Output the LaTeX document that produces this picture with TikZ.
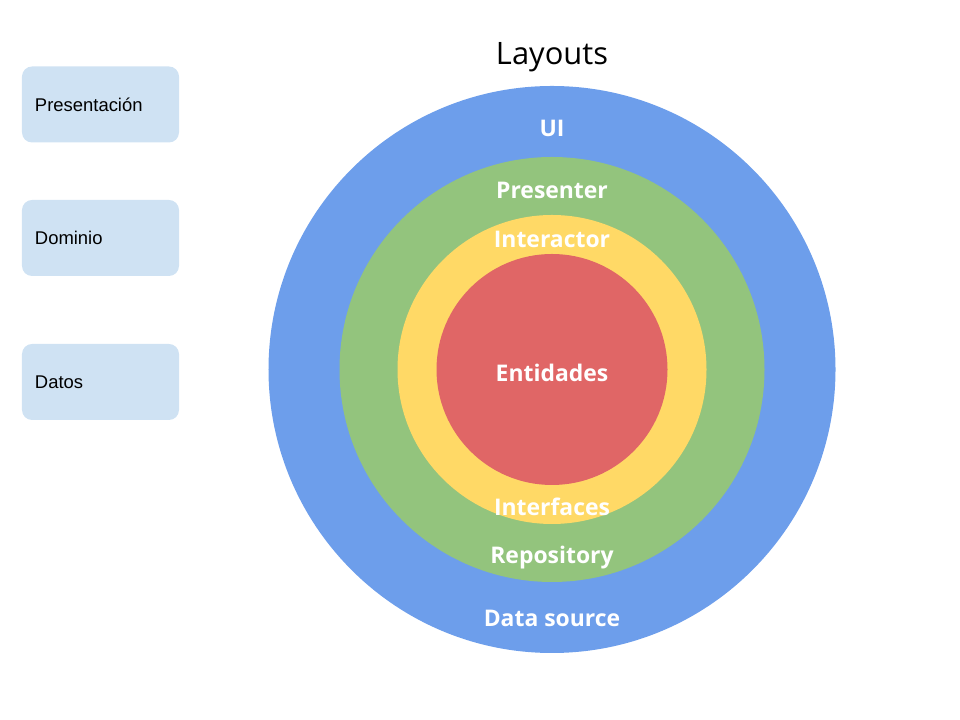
\documentclass[tikz,border=0pt]{standalone}
\usepackage{fontspec}
\setmainfont{Liberation Sans}
\newfontfamily\ringfont{Open Sans}
\usetikzlibrary{positioning}
\definecolor{uiblue}{HTML}{6D9EEB}
\definecolor{presgreen}{HTML}{93C47D}
\definecolor{intyellow}{HTML}{FFD966}
\definecolor{entred}{HTML}{E06666}
\definecolor{boxblue}{HTML}{CFE2F3}
\tikzset{
  ring/.style={circle,inner sep=0pt,draw=none},
  ringlabel/.style={text=white,font=\ringfont\bfseries\fontsize{23}{27}\selectfont},
  layerbox/.style={rounded corners=10bp,fill=boxblue,minimum height=76bp,
    text width=131bp,inner xsep=13bp,align=left,font=\fontsize{18.5}{22}\selectfont},
}
\begin{document}
\begin{tikzpicture}[x=1bp,y=1bp]
  \useasboundingbox (0,0) rectangle (960,720);
  % Rings
  \node[ring,fill=uiblue,minimum size=567bp] (ui) at (552,350.5) {};
  \node[ring,fill=presgreen,minimum size=425bp] (presenter) at (552,350.5) {};
  \node[ring,fill=intyellow,minimum size=309bp] (interactor) at (552,350.5) {};
  \node[ring,fill=entred,minimum size=231bp] (entidades) at (552,350.5) {};
  % Title
  \node[font=\ringfont\fontsize{31}{37}\selectfont] (layouts) at (552,663) {Layouts};
  % Ring labels
  \node[ringlabel] (uilbl) at (552,592) {UI};
  \node[ringlabel] (presenterlbl) at (552,530) {Presenter};
  \node[ringlabel] (interactorlbl) at (552,481) {Interactor};
  \node[ringlabel] (entidadeslbl) at (552,347) {Entidades};
  \node[ringlabel] (interfaceslbl) at (552,213) {Interfaces};
  \node[ringlabel] (repositorylbl) at (552,162) {Repository};
  \node[ringlabel] (datasourcelbl) at (552,102) {Data source};
  % Layer boxes
  \node[layerbox] (presentacion) at (100.5,615.5) {Presentación};
  \node[layerbox] (dominio) at (100.5,482) {Dominio};
  \node[layerbox] (datos) at (100.5,338) {Datos};
\end{tikzpicture}
\end{document}
